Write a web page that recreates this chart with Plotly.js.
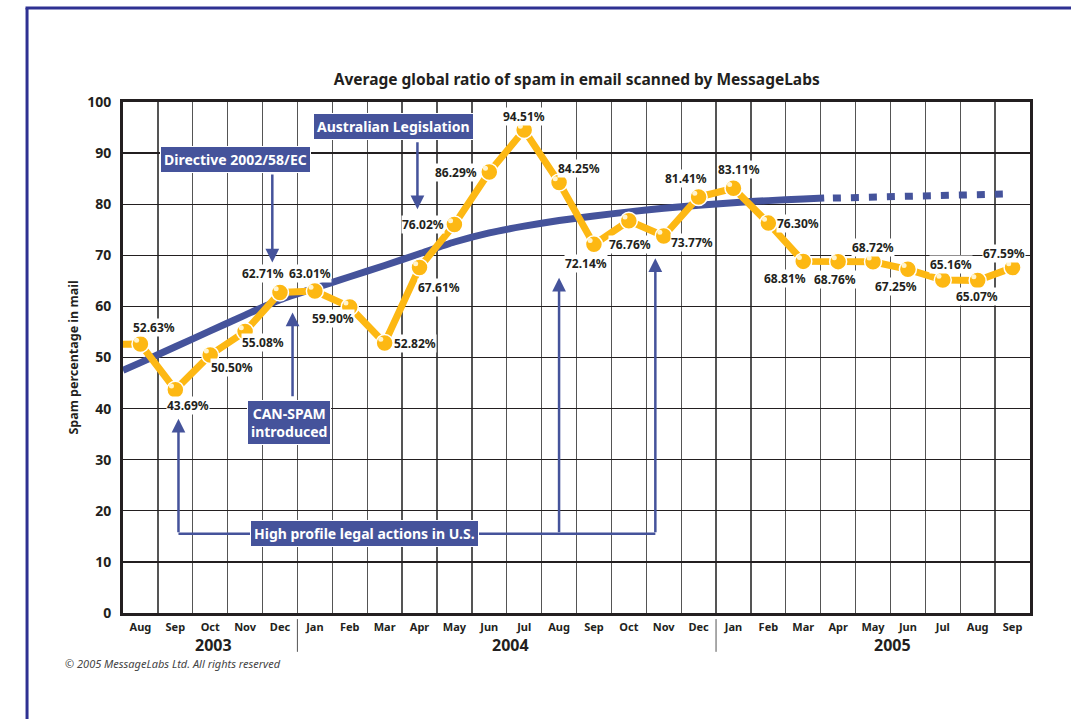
<!DOCTYPE html>
<html>
<head>
<meta charset="utf-8">
<script src="https://cdn.plot.ly/plotly-3.0.1.min.js"></script>
<style>
  html, body { margin: 0; padding: 0; background: #ffffff; }
  #chart { width: 1071px; height: 719px; }
</style>
</head>
<body>
<div id="chart"></div>
<script>
// ---------- data ----------
const months = ['Aug','Sep','Oct','Nov','Dec','Jan','Feb','Mar','Apr','May','Jun','Jul','Aug','Sep','Oct','Nov','Dec','Jan','Feb','Mar','Apr','May','Jun','Jul','Aug','Sep'];
const spamPct = [52.63,43.69,50.50,55.08,62.71,63.01,59.90,52.82,67.61,76.02,86.29,94.51,84.25,72.14,76.76,73.77,81.41,83.11,76.30,68.81,68.76,68.72,67.25,65.16,65.07,67.59];
const leadInValue = 52.6;   // previous month, running in from the left edge
const years = ['2003','2004','2005'];
const yearCenters = [2.1, 10.6, 21.55];
const yearBreaks = [4.5, 16.5];
// trend curve (month index, percent)
const trendPos = [-0.5,0,1,2,3,4,5,6,7,8,9,10,11,12,13,14,15,16,17,18,19,19.6];
const trendVal = [47.5,49.0,52.1,55.2,58.3,61.3,63.6,65.8,68.0,70.3,72.6,74.4,75.7,76.8,77.7,78.5,79.2,79.8,80.3,80.7,81.0,81.2];
const trendProjPos = [19.85,21,22,23,24,24.8];
const trendProjVal = [81.2,81.4,81.55,81.7,81.85,82.0];
const yTicks = [0,10,20,30,40,50,60,70,80,90,100];

// ---------- styles ----------
const NAVY = '#45539b';
const GOLD = '#fdb813';
const TXT = '#231f20';
const FONT = 'Noto Sans, Open Sans, sans-serif';
const labelShift = [[14,-17],[13,16],[22,13],[18,11],[-17,-19],[-5,-18],[-17,12],[30,0],[19,20],[-31,0],[-33,0],[0,-14],[20,-14],[-8,19],[1,24],[28,6],[-13,-18],[6,-19],[30,0],[-18,17],[-3,18],[0,-14],[-12,17],[8,-16],[-1,16],[-9,-14]];
const XR = [-0.5, 25.5], YR = [0, 100];
const glintDX = 0.11, glintDY = 0.75;   // highlight offset on the marker balls (axis units)

const idx = months.map((m, i) => i);

const traces = [
  { x: trendPos, y: trendVal, mode: 'lines', line: { color: NAVY, width: 7, shape: 'spline', smoothing: 0.6 }, hoverinfo: 'skip', showlegend: false },
  { x: trendProjPos, y: trendProjVal, mode: 'lines', line: { color: NAVY, width: 7, dash: '8px,10px' }, hoverinfo: 'skip', showlegend: false },
  { x: [-1].concat(idx), y: [leadInValue].concat(spamPct), mode: 'lines', line: { color: GOLD, width: 7 }, hoverinfo: 'skip', showlegend: false },
  { x: idx, y: spamPct, mode: 'markers', marker: { color: GOLD, size: 17, line: { color: '#ffffff', width: 1.5 } }, hoverinfo: 'skip', showlegend: false },
  { x: idx, y: spamPct, xaxis: 'x2', yaxis: 'y2', mode: 'markers', marker: { color: '#fff4cf', size: 5, line: { width: 0 } }, hoverinfo: 'skip', showlegend: false }
];

const annotations = [];
// value labels
spamPct.forEach((v, i) => {
  annotations.push({
    x: i, y: v, xref: 'x', yref: 'y', text: v.toFixed(2) + '%', showarrow: false,
    xshift: labelShift[i][0], yshift: -labelShift[i][1],
    font: { family: FONT, size: 12, color: TXT, weight: 700 },
    bgcolor: '#ffffff', borderpad: 0
  });
});
// year labels
years.forEach((yr, k) => {
  annotations.push({
    x: yearCenters[k], y: -0.063, xref: 'x', yref: 'paper', yanchor: 'middle', text: yr, showarrow: false,
    font: { family: FONT, size: 16, color: TXT, weight: 700 }
  });
});
// callout boxes
const boxStyle = { showarrow: false, bgcolor: NAVY, bordercolor: '#ffffff', borderwidth: 1, borderpad: 3,
  font: { family: FONT, size: 14, color: '#ffffff', weight: 700 }, xref: 'x', yref: 'y' };
annotations.push(Object.assign({}, boxStyle, { x: 2.72, y: 88.8, text: 'Directive 2002/58/EC' }));
annotations.push(Object.assign({}, boxStyle, { x: 7.25, y: 95.3, text: 'Australian Legislation' }));
annotations.push(Object.assign({}, boxStyle, { x: 4.27, y: 37.2, text: 'CAN-SPAM<br>introduced', align: 'center' }));
annotations.push(Object.assign({}, boxStyle, { x: 6.42, y: 15.5, text: 'High profile legal actions in U.S.' }));
// arrows
const arrowStyle = { text: '', showarrow: true, arrowcolor: NAVY, arrowwidth: 2.5, arrowhead: 2, arrowsize: 1.1,
  xref: 'x', yref: 'y', axref: 'x', ayref: 'y', standoff: 0, startstandoff: 0 };
[[3.78, 68.6, 3.78, 86.1], [7.94, 79.0, 7.94, 92.4], [4.36, 58.8, 4.36, 42.1],
 [1.09, 38.0, 1.09, 15.5], [12.0, 65.6, 12.0, 15.5], [14.76, 69.4, 14.76, 15.5]].forEach(a => {
  annotations.push(Object.assign({}, arrowStyle, { x: a[0], y: a[1], ax: a[2], ay: a[3] }));
});
// copyright
annotations.push({ x: -0.066, y: -0.098, xref: 'paper', yref: 'paper', xanchor: 'left', yanchor: 'middle', text: '© 2005 MessageLabs Ltd. All rights reserved',
  showarrow: false, font: { family: FONT, size: 11, color: '#444444', style: 'italic' } });

const shapes = [
  // connector line of the "High profile" callout
  { type: 'line', xref: 'x', yref: 'y', x0: 1.09, x1: 14.76, y0: 15.5, y1: 15.5, line: { color: NAVY, width: 2.5 }, layer: 'above' },
  // frame
  { type: 'line', xref: 'paper', yref: 'paper', x0: -0.1058, x1: -0.1058, y0: 1.184, y1: -0.22, line: { color: '#2e3192', width: 3 } },
  { type: 'line', xref: 'paper', yref: 'paper', x0: -0.1075, x1: 1.1, y0: 1.184, y1: 1.184, line: { color: '#2e3192', width: 3 } }
];
yearBreaks.forEach(b => {
  shapes.push({ type: 'line', xref: 'x', yref: 'paper', x0: b, x1: b, y0: -0.012, y1: -0.076, line: { color: '#555555', width: 1 } });
});

const layout = {
  width: 1071, height: 719,
  margin: { l: 123, r: 41, t: 102, b: 106 },
  paper_bgcolor: '#ffffff', plot_bgcolor: '#ffffff',
  title: { text: 'Average global ratio of spam in email scanned by MessageLabs', x: 0.5385, xanchor: 'center',
    y: 0.889, yanchor: 'middle', yref: 'container', font: { family: FONT, size: 15.5, color: TXT, weight: 700 } },
  xaxis: {
    range: XR, tickmode: 'array', tickvals: idx, ticktext: months,
    showgrid: false, zeroline: false, showline: true, linecolor: '#231f20', linewidth: 3, mirror: true,
    ticks: '', ticklabelstandoff: 2, tickfont: { family: FONT, size: 11, color: TXT, weight: 700 },
    minor: { tickmode: 'linear', tick0: 0.5, dtick: 1, showgrid: true, gridcolor: '#555555', gridwidth: 1.3, ticks: '' },
    fixedrange: true
  },
  yaxis: {
    range: YR, tickmode: 'array', tickvals: yTicks,
    showgrid: true, gridcolor: '#231f20', gridwidth: 1.4, zeroline: false,
    showline: true, linecolor: '#231f20', linewidth: 3, mirror: true,
    ticks: '', ticklabelstandoff: 6, tickfont: { family: FONT, size: 14, color: TXT, weight: 700 },
    title: { text: 'Spam percentage in mail', standoff: 6, font: { family: FONT, size: 12.5, color: TXT, weight: 700 } },
    fixedrange: true
  },
  xaxis2: { overlaying: 'x', range: [XR[0] + glintDX, XR[1] + glintDX], visible: false, fixedrange: true },
  yaxis2: { overlaying: 'y', range: [YR[0] - glintDY, YR[1] - glintDY], visible: false, fixedrange: true },
  annotations: annotations,
  shapes: shapes,
  showlegend: false
};

Plotly.newPlot('chart', traces, layout, { displayModeBar: false, staticPlot: true });
</script>
</body>
</html>
